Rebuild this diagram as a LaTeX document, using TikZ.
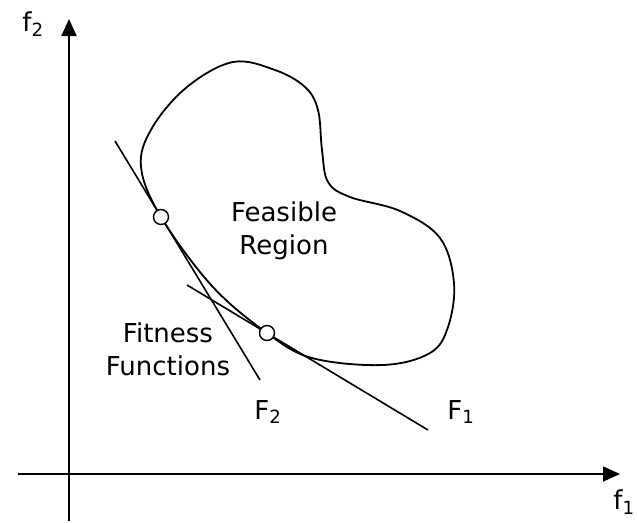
\documentclass[tikz,border=0pt]{standalone}
\usepackage{fontspec}
\setmainfont{DejaVu Sans}
\usetikzlibrary{arrows.meta}
\begin{document}
\begin{tikzpicture}[x=1pt,y=-1pt,
  axis/.style={line width=1.8pt,-{Triangle[length=17pt,width=15pt]}},
  curve/.style={line width=1.8pt,line join=round},
  tangent/.style={line width=1.6pt},
  pt/.style={circle,draw,line width=1.4pt,fill=white,minimum size=15pt,inner sep=0pt},
  lbl/.style={font=\fontsize{26}{33}\selectfont,inner sep=0pt,align=center}]
\useasboundingbox (0,0) rectangle (637,522);
% axes
\coordinate (yb) at (69,521);
\coordinate (yt) at (69,19);
\coordinate (xl) at (18,474);
\coordinate (xr) at (620,474);
\draw[axis] (yb) -- (yt);
\draw[axis] (xl) -- (xr);
\node[lbl] (f2) at (33,24) {f\textsubscript{2}};
\node[lbl] (f1) at (624,502) {f\textsubscript{1}};
% feasible region
\draw[curve] plot[smooth cycle,tension=0.6] coordinates {
 (233,62) (275,70) (305,87) (318,110) (322,150) (328,182) (350,197) (400,211)
 (440,238) (454,283) (448,327) (430,353) (383,365) (312,358) (267,333)
 (212,286) (161,217) (141,167) (152,128) (187,87)};
% tangent lines
\coordinate (a1) at (115,141);
\coordinate (a2) at (260,380);
\coordinate (b1) at (187,285);
\coordinate (b2) at (428,430);
\draw[tangent] (a1) -- (a2);
\draw[tangent] (b1) -- (b2);
\node[pt] (p1) at (161,217) {};
\node[pt] (p2) at (267,333) {};
% labels
\node[lbl] (fr) at (284,231) {Feasible\\Region};
\node[lbl] (ff) at (168,349) {Fitness\\Functions};
\node[lbl] (F2) at (268,412) {F\textsubscript{2}};
\node[lbl] (F1) at (461,412) {F\textsubscript{1}};
\end{tikzpicture}
\end{document}
